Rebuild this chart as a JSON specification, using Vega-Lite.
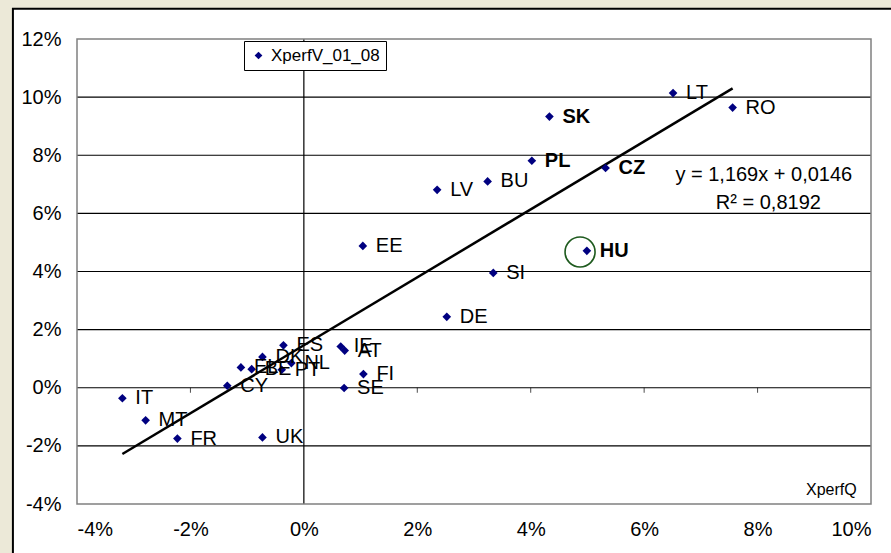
{
  "$schema": "https://vega.github.io/schema/vega-lite/v6.json",
  "width": 794,
  "height": 465,
  "autosize": {"type": "none"},
  "padding": {"left": 77, "top": 39, "right": 20, "bottom": 49},
  "background": "#ECE9D8",
  "config": {
    "view": {"stroke": null, "fill": "white"},
    "font": "Liberation Sans",
    "axis": {"grid": false, "domain": false, "ticks": false, "labelFont": "Liberation Sans", "labelFontSize": 20, "labelColor": "black", "title": null}
  },
  "datasets": {
    "points": [
      {"c": "LT", "x": 0.0651, "y": 0.1014},
      {"c": "RO", "x": 0.0756, "y": 0.0964},
      {"c": "SK", "x": 0.0433, "y": 0.0933},
      {"c": "PL", "x": 0.0402, "y": 0.0781},
      {"c": "CZ", "x": 0.0532, "y": 0.0756},
      {"c": "BU", "x": 0.0324, "y": 0.0710},
      {"c": "LV", "x": 0.0235, "y": 0.0681},
      {"c": "EE", "x": 0.0104, "y": 0.0488},
      {"c": "HU", "x": 0.0499, "y": 0.0471},
      {"c": "SI", "x": 0.0334, "y": 0.0395},
      {"c": "DE", "x": 0.0252, "y": 0.0244},
      {"c": "IE", "x": 0.0065, "y": 0.0142},
      {"c": "AT", "x": 0.0072, "y": 0.0128},
      {"c": "FI", "x": 0.0105, "y": 0.0047},
      {"c": "SE", "x": 0.0071, "y": -0.0001},
      {"c": "ES", "x": -0.0036, "y": 0.0146},
      {"c": "DK", "x": -0.0073, "y": 0.0106},
      {"c": "NL", "x": -0.0022, "y": 0.0085},
      {"c": "PT", "x": -0.0039, "y": 0.0062},
      {"c": "EL", "x": -0.0111, "y": 0.0070},
      {"c": "BE", "x": -0.0092, "y": 0.0064},
      {"c": "CY", "x": -0.0135, "y": 0.0007},
      {"c": "IT", "x": -0.0320, "y": -0.0036},
      {"c": "MT", "x": -0.0279, "y": -0.0112},
      {"c": "FR", "x": -0.0223, "y": -0.0175},
      {"c": "UK", "x": -0.0073, "y": -0.0171}
    ],
    "trend": [
      {"x": -0.0320, "y": -0.0228},
      {"x": 0.0756, "y": 0.1030}
    ],
    "grid": [
      {"v": -0.02}, {"v": 0}, {"v": 0.02}, {"v": 0.04}, {"v": 0.06}, {"v": 0.08}, {"v": 0.10}
    ],
    "xticks": [
      {"v": -0.02}, {"v": 0.02}, {"v": 0.04}, {"v": 0.06}, {"v": 0.08}
    ],
    "one": [{}]
  },
  "layer": [
    {
      "data": {"name": "one"},
      "mark": {"type": "rect", "fill": "white", "stroke": "black", "strokeWidth": 2, "clip": false},
      "encoding": {
        "x": {"datum": -0.0513, "type": "quantitative", "scale": {"domain": [-0.04, 0.10], "nice": false, "zero": false}},
        "x2": {"datum": 0.3},
        "y": {"datum": 0.1304, "type": "quantitative", "scale": {"domain": [-0.04, 0.12], "nice": false, "zero": false}},
        "y2": {"datum": -0.3}
      }
    },
    {
      "data": {"name": "grid"},
      "mark": {"type": "rule", "color": "black", "strokeWidth": 1.2},
      "encoding": {"y": {"field": "v", "type": "quantitative"}}
    },
    {
      "data": {"name": "one"},
      "mark": {"type": "rule", "color": "black", "strokeWidth": 1.2},
      "encoding": {"x": {"datum": 0, "type": "quantitative"}}
    },
    {
      "data": {"name": "xticks"},
      "mark": {"type": "tick", "orient": "vertical", "color": "black", "size": 5, "thickness": 1, "yOffset": 2.5},
      "encoding": {
        "x": {"field": "v", "type": "quantitative"},
        "y": {"datum": 0, "type": "quantitative"}
      }
    },
    {
      "data": {"name": "one"},
      "mark": {"type": "rect", "fill": null, "fillOpacity": 0, "stroke": "#808080", "strokeWidth": 1.5},
      "encoding": {
        "x": {"datum": -0.04, "type": "quantitative"},
        "x2": {"datum": 0.10},
        "y": {"datum": 0.12, "type": "quantitative"},
        "y2": {"datum": -0.04}
      }
    },
    {
      "data": {"name": "trend"},
      "mark": {"type": "line", "color": "black", "strokeWidth": 2.5},
      "encoding": {
        "x": {"field": "x", "type": "quantitative"},
        "y": {"field": "y", "type": "quantitative"}
      }
    },
    {
      "data": {"name": "points"},
      "mark": {"type": "point", "shape": "diamond", "filled": true, "size": 75, "opacity": 1},
      "encoding": {
        "x": {"field": "x", "type": "quantitative",
          "axis": {"zindex": 2, "values": [-0.04, -0.02, 0, 0.02, 0.04, 0.06, 0.08, 0.10], "format": ".0%", "labelExpr": "replace(datum.label, '−', '-')", "labelPadding": 15, "orient": "bottom"}},
        "y": {"field": "y", "type": "quantitative",
          "axis": {"zindex": 2, "values": [-0.04, -0.02, 0, 0.02, 0.04, 0.06, 0.08, 0.10, 0.12], "format": ".0%", "labelExpr": "replace(datum.label, '−', '-')", "labelPadding": 16, "orient": "left"}},
        "color": {"datum": "XperfV_01_08", "type": "nominal",
          "scale": {"range": ["#000080"]},
          "legend": {"orient": "none", "legendX": 167, "legendY": 2, "title": null, "strokeColor": "black", "fillColor": "white", "padding": 6, "labelFontSize": 17, "labelFont": "Liberation Sans", "labelColor": "black", "symbolSize": 60, "symbolType": "diamond", "symbolStrokeWidth": 0, "symbolOpacity": 1}}
      }
    },
    {
      "data": {"name": "points"},
      "transform": [{"filter": "indexof(['SK','PL','CZ','HU'], datum.c) < 0"}],
      "mark": {"type": "text", "align": "left", "baseline": "middle", "dx": 13, "fontSize": 20, "font": "Liberation Sans", "color": "black"},
      "encoding": {
        "x": {"field": "x", "type": "quantitative"},
        "y": {"field": "y", "type": "quantitative"},
        "text": {"field": "c"}
      }
    },
    {
      "data": {"name": "points"},
      "transform": [{"filter": "indexof(['SK','PL','CZ','HU'], datum.c) >= 0"}],
      "mark": {"type": "text", "align": "left", "baseline": "middle", "dx": 13, "fontSize": 20, "fontWeight": "bold", "font": "Liberation Sans", "color": "black"},
      "encoding": {
        "x": {"field": "x", "type": "quantitative"},
        "y": {"field": "y", "type": "quantitative"},
        "text": {"field": "c"}
      }
    },
    {
      "data": {"name": "one"},
      "mark": {"type": "point", "shape": "circle", "filled": false, "stroke": "#1E5A1E", "strokeWidth": 1.6, "size": 900, "opacity": 1},
      "encoding": {
        "x": {"datum": 0.0487, "type": "quantitative"},
        "y": {"datum": 0.0467, "type": "quantitative"}
      }
    },
    {
      "data": {"name": "one"},
      "mark": {"type": "text", "align": "center", "baseline": "middle", "fontSize": 20, "font": "Liberation Sans", "color": "black", "text": "y = 1,169x + 0,0146"},
      "encoding": {
        "x": {"datum": 0.0811, "type": "quantitative"},
        "y": {"datum": 0.0733, "type": "quantitative"}
      }
    },
    {
      "data": {"name": "one"},
      "mark": {"type": "text", "align": "center", "baseline": "middle", "fontSize": 20, "font": "Liberation Sans", "color": "black", "text": "R² = 0,8192"},
      "encoding": {
        "x": {"datum": 0.0819, "type": "quantitative"},
        "y": {"datum": 0.0636, "type": "quantitative"}
      }
    },
    {
      "data": {"name": "one"},
      "mark": {"type": "text", "align": "center", "baseline": "middle", "fontSize": 16, "font": "Liberation Sans", "color": "black", "text": "XperfQ"},
      "encoding": {
        "x": {"datum": 0.0930, "type": "quantitative"},
        "y": {"datum": -0.0351, "type": "quantitative"}
      }
    }
  ]
}
